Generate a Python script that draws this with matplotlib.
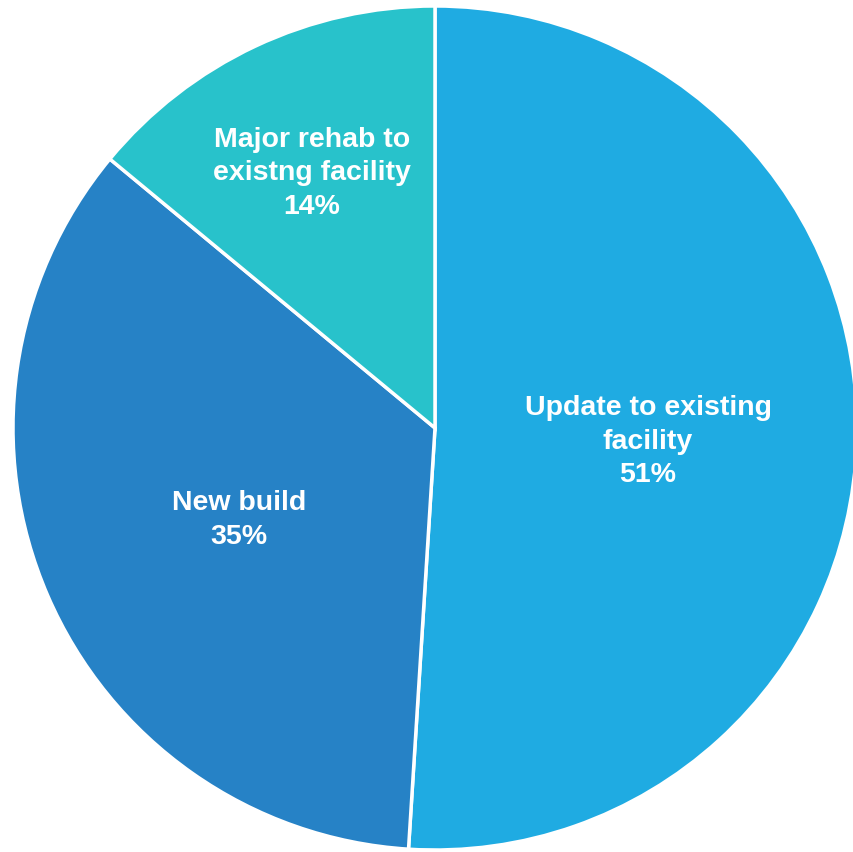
import numpy as np
import matplotlib
matplotlib.use("Agg")
import matplotlib.pyplot as plt

# project types, shares in percent (clockwise from 12 o'clock)
labels = ["Update to existing\nfacility", "New build", "Major rehab to\nexistng facility"]
shares = [51, 35, 14]
colors = ["#1FABE2", "#2682C6", "#28C2CB"]
label_r = [0.505, 0.507, 0.685]

fig = plt.figure(figsize=(8.54, 8.53), dpi=100)
ax = fig.add_axes([0, 0, 1, 1])

# pie drawn in pixel units so centre/radius line up with the canvas
wedges, _ = ax.pie(shares, colors=colors, startangle=90, counterclock=False,
                   center=(435, 424), radius=422, frame=True,
                   wedgeprops=dict(edgecolor="white", linewidth=2.5))

for w, lab, v, r in zip(wedges, labels, shares, label_r):
    ang = np.deg2rad((w.theta1 + w.theta2) / 2)
    x = w.center[0] + r * w.r * np.cos(ang)
    y = w.center[1] + r * w.r * np.sin(ang) - 6
    ax.text(x, y, "{}\n{}%".format(lab, v), ha="center", va="center",
            color="white", fontsize=20.5, fontweight="bold",
            family="Liberation Sans", linespacing=1.38)

ax.set_xlim(0, 854)
ax.set_ylim(0, 853)
ax.set_aspect("equal")
ax.axis("off")

fig.savefig("out.png", dpi=100)
